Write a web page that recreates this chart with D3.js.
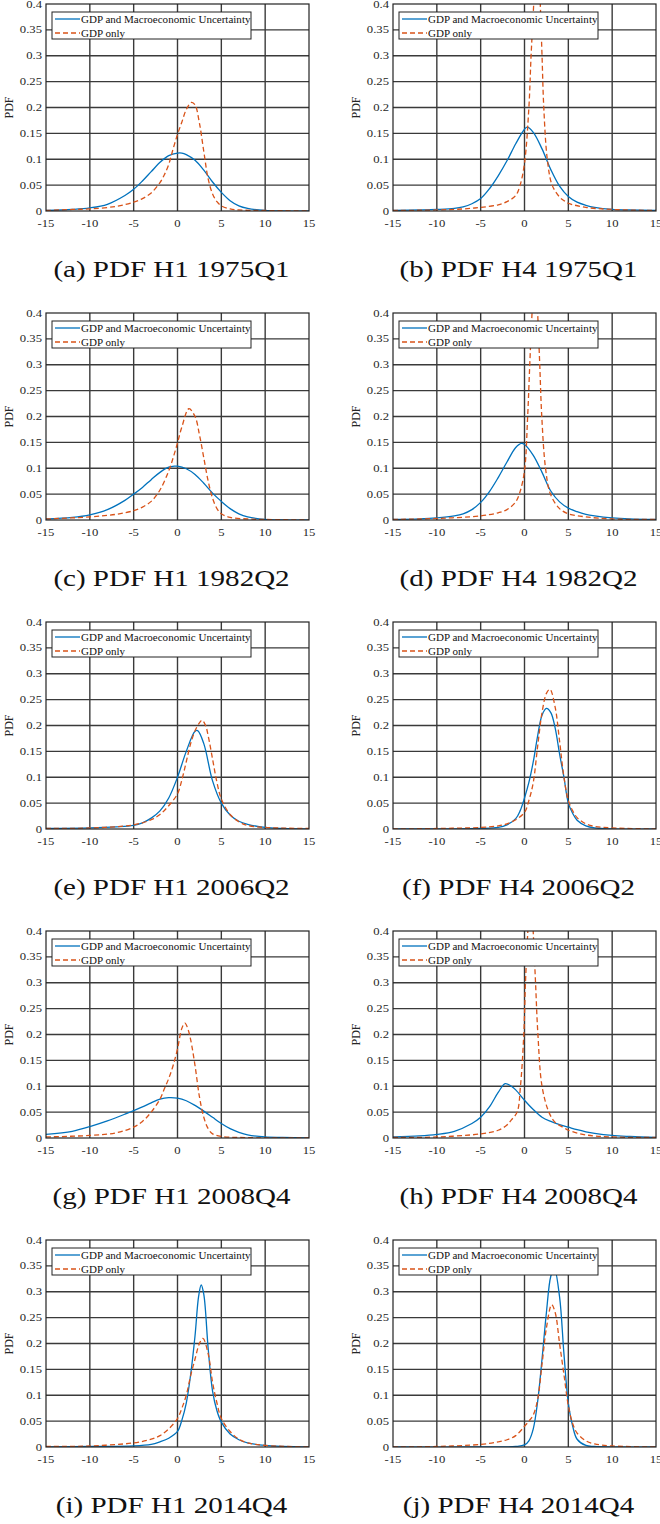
<!DOCTYPE html>
<html>
<head>
<meta charset="utf-8">
<script src="https://cdn.jsdelivr.net/npm/d3@7"></script>
<style>
  body { margin: 0; background: #fff; }
  svg { display: block; }
  text { font-family: "Liberation Serif", "Times New Roman", serif; }
</style>
</head>
<body>
<svg id="chart" width="660" height="1524"></svg>
<script>
// axis ticks
const xTicks = [-15, -10, -5, 0, 5, 10, 15];
const yTicks = [0, 0.05, 0.1, 0.15, 0.2, 0.25, 0.3, 0.35, 0.4];
const legendLabels = ["GDP and Macroeconomic Uncertainty", "GDP only"];
const captions = [
  "(a) PDF H1 1975Q1", "(b) PDF H4 1975Q1",
  "(c) PDF H1 1982Q2", "(d) PDF H4 1982Q2",
  "(e) PDF H1 2006Q2", "(f) PDF H4 2006Q2",
  "(g) PDF H1 2008Q4", "(h) PDF H4 2008Q4",
  "(i) PDF H1 2014Q4", "(j) PDF H4 2014Q4"
];

// [growth, density] pairs
const a_macro = [[-15,0.001],[-12,0.003],[-10,0.006],[-8,0.013],[-6,0.03],[-5,0.042],[-4,0.058],[-3,0.076],[-2,0.094],[-1,0.107],[0,0.112],[0.5,0.112],[1,0.109],[2,0.098],[3,0.079],[4,0.056],[5,0.036],[6,0.02],[7,0.01],[8,0.005],[10,0.001],[12,0],[15,0]];
const a_gdp = [[-15,0.001],[-12,0.003],[-10,0.004],[-7,0.009],[-5,0.017],[-4,0.024],[-3,0.035],[-2,0.055],[-1.5,0.07],[-1,0.09],[-0.5,0.12],[0,0.148],[0.5,0.172],[1,0.196],[1.6,0.21],[2,0.205],[2.5,0.17],[3,0.115],[3.5,0.062],[4,0.033],[4.5,0.018],[5,0.01],[6,0.004],[7,0.002],[10,0.001],[15,0]];

const b_macro = [[-15,0.001],[-12,0.002],[-10,0.003],[-8,0.005],[-7,0.008],[-6,0.014],[-5,0.024],[-4,0.043],[-3,0.068],[-2,0.097],[-1,0.13],[0,0.158],[0.3,0.162],[1,0.152],[2,0.12],[3,0.08],[4,0.048],[5,0.028],[6,0.017],[7,0.011],[8,0.007],[10,0.003],[12,0.002],[15,0.001]];
const b_gdp = [[-15,0.001],[-10,0.002],[-7,0.004],[-5,0.007],[-3,0.012],[-2,0.018],[-1,0.03],[-0.5,0.05],[0,0.092],[0.5,0.2],[0.75,0.3],[1.05,0.4],[1.45,0.55],[1.8,0.4],[2,0.3],[2.2,0.2],[2.6,0.1],[3.15,0.05],[4,0.027],[4.5,0.02],[5,0.015],[7,0.007],[10,0.003],[15,0.001]];

const c_macro = [[-15,0.002],[-12,0.005],[-10,0.01],[-8,0.02],[-6,0.038],[-5,0.05],[-4,0.063],[-3,0.078],[-2,0.092],[-1,0.102],[-0.3,0.104],[0,0.104],[1,0.099],[2,0.088],[3,0.071],[4,0.052],[5,0.036],[6,0.022],[7,0.012],[8,0.006],[10,0.001],[12,0],[15,0]];
const c_gdp = [[-15,0.002],[-10,0.006],[-7,0.011],[-5,0.018],[-4,0.025],[-3,0.036],[-2,0.058],[-1,0.095],[-0.5,0.12],[0,0.149],[0.5,0.18],[1.3,0.215],[2,0.2],[2.5,0.165],[3,0.12],[3.5,0.075],[4,0.042],[4.5,0.022],[5,0.012],[6,0.005],[8,0.002],[10,0.001],[15,0]];

const d_macro = [[-15,0.001],[-12,0.002],[-10,0.004],[-8,0.008],[-7,0.012],[-6,0.02],[-5,0.034],[-4,0.055],[-3,0.082],[-2,0.112],[-1,0.14],[-0.35,0.148],[0,0.146],[1,0.125],[2,0.092],[3,0.056],[4,0.035],[5,0.023],[6,0.016],[7,0.011],[8,0.008],[10,0.004],[12,0.002],[15,0.001]];
const d_gdp = [[-15,0.001],[-10,0.003],[-5,0.008],[-3,0.014],[-2,0.02],[-1,0.035],[-0.5,0.055],[0,0.095],[0.36,0.2],[0.6,0.3],[0.86,0.4],[1.2,0.5],[1.5,0.4],[1.74,0.3],[1.97,0.2],[2.4,0.1],[2.96,0.05],[4,0.022],[5,0.012],[7,0.006],[10,0.002],[15,0.001]];

const e_macro = [[-15,0.001],[-10,0.002],[-7,0.004],[-5,0.007],[-4,0.012],[-3,0.021],[-2,0.035],[-1,0.06],[0,0.1],[1,0.15],[2,0.189],[2.3,0.19],[3,0.165],[4,0.093],[5,0.05],[6,0.027],[7,0.015],[8,0.009],[10,0.003],[12,0.001],[15,0]];
const e_gdp = [[-15,0.001],[-10,0.002],[-5,0.008],[-3,0.018],[-2,0.028],[-1,0.045],[0,0.068],[0.5,0.095],[1,0.13],[1.5,0.165],[2,0.19],[2.5,0.205],[2.8,0.21],[3.2,0.2],[3.5,0.18],[4,0.135],[4.5,0.09],[5,0.058],[6,0.028],[7,0.014],[8,0.007],[10,0.003],[15,0.001]];

const f_macro = [[-15,0],[-5,0.001],[-3,0.003],[-2,0.008],[-1,0.02],[-0.5,0.035],[0,0.06],[0.5,0.09],[1,0.13],[1.5,0.18],[2,0.22],[2.5,0.233],[3,0.225],[3.5,0.195],[4,0.145],[4.5,0.1],[5,0.05],[5.5,0.03],[6,0.017],[7,0.006],[8,0.002],[10,0],[15,0]];
const f_gdp = [[-15,0],[-10,0.001],[-5,0.003],[-3,0.006],[-2,0.01],[-1,0.018],[0,0.032],[0.5,0.055],[1,0.09],[1.5,0.16],[2,0.225],[2.5,0.262],[2.9,0.27],[3.5,0.235],[4,0.17],[4.5,0.1],[5,0.055],[5.5,0.035],[6,0.022],[7,0.01],[8,0.005],[10,0.002],[15,0]];

const g_macro = [[-15,0.007],[-12,0.013],[-10,0.022],[-8,0.033],[-6,0.046],[-5,0.053],[-4,0.06],[-3,0.068],[-2,0.075],[-1,0.078],[0,0.077],[1,0.072],[2,0.063],[3,0.052],[4,0.04],[5,0.028],[6,0.018],[7,0.011],[8,0.006],[10,0.002],[12,0.001],[15,0]];
const g_gdp = [[-15,0.002],[-10,0.005],[-7,0.01],[-5,0.021],[-4,0.032],[-3,0.05],[-2,0.075],[-1.5,0.095],[-1,0.115],[-0.5,0.14],[0,0.172],[0.5,0.212],[0.85,0.222],[1.2,0.21],[1.5,0.19],[2,0.14],[2.5,0.08],[3,0.04],[3.5,0.018],[4,0.008],[5,0.003],[7,0.001],[15,0]];

const h_macro = [[-15,0.002],[-12,0.004],[-10,0.007],[-8,0.013],[-6,0.028],[-5,0.04],[-4,0.06],[-3,0.088],[-2.2,0.105],[-1.5,0.1],[-1,0.093],[0,0.073],[1,0.055],[2,0.04],[3,0.032],[4,0.026],[5,0.021],[6,0.016],[7,0.012],[8,0.009],[10,0.005],[12,0.003],[15,0.001]];
const h_gdp = [[-15,0.001],[-10,0.002],[-5,0.008],[-3,0.015],[-2,0.025],[-1.5,0.035],[-0.84,0.05],[-0.46,0.1],[-0.08,0.2],[0.11,0.3],[0.38,0.4],[0.7,0.5],[0.99,0.4],[1.26,0.3],[1.53,0.2],[2,0.1],[2.78,0.05],[3.5,0.03],[4.5,0.02],[5,0.015],[7,0.006],[10,0.002],[15,0.001]];

const i_macro = [[-15,0],[-10,0.001],[-5,0.002],[-3,0.005],[-2,0.01],[-1,0.017],[0,0.03],[0.5,0.052],[1,0.085],[1.5,0.14],[2,0.215],[2.4,0.29],[2.7,0.313],[3,0.295],[3.5,0.19],[4,0.108],[4.5,0.07],[5,0.048],[6,0.025],[7,0.014],[8,0.008],[10,0.003],[15,0]];
const i_gdp = [[-15,0.001],[-10,0.002],[-5,0.008],[-3,0.015],[-2,0.022],[-1,0.035],[0,0.055],[0.5,0.075],[1,0.1],[1.5,0.138],[2,0.17],[2.5,0.2],[2.9,0.21],[3.5,0.18],[4,0.125],[4.5,0.085],[5,0.055],[6,0.03],[7,0.015],[8,0.008],[10,0.003],[15,0]];

const j_macro = [[-15,0],[-5,0],[-1,0.001],[0,0.004],[0.5,0.012],[1,0.035],[1.5,0.088],[2,0.17],[2.5,0.26],[3,0.33],[3.4,0.345],[4,0.29],[4.5,0.18],[5,0.085],[5.5,0.04],[6,0.015],[7,0.003],[8,0.001],[15,0]];
const j_gdp = [[-15,0],[-10,0.001],[-5,0.005],[-3,0.01],[-2,0.014],[-1,0.022],[0,0.04],[0.5,0.05],[1,0.062],[1.5,0.092],[2,0.16],[2.5,0.23],[3.1,0.275],[3.5,0.26],[4,0.2],[4.5,0.14],[5,0.08],[5.5,0.045],[6,0.027],[7,0.012],[8,0.006],[10,0.002],[15,0]];

const panelSeries = [
  [a_macro, a_gdp], [b_macro, b_gdp],
  [c_macro, c_gdp], [d_macro, d_gdp],
  [e_macro, e_gdp], [f_macro, f_gdp],
  [g_macro, g_gdp], [h_macro, h_gdp],
  [i_macro, i_gdp], [j_macro, j_gdp]
];

const colors = ["#0072BD", "#D95319"];
const svg = d3.select("#chart");

const colLeft = [46, 393];
const plotW = 263;
const plotH = 207;
const rowTop = r => 4 + r * 309;

const x = d3.scaleLinear().domain([-15, 15]).range([0, plotW]);
const y = d3.scaleLinear().domain([0, 0.4]).range([plotH, 0]);

const line = d3.line()
  .x(d => x(d[0]))
  .y(d => Math.min(y(d[1]), plotH))
  .curve(d3.curveCatmullRom.alpha(0.5));

const fmt = d => (d === 0 ? "0" : String(+d.toFixed(2)));

// the source figure is stretched sideways, so horizontal text is too
const stretchText = (sel, tx, ty, sx = 1.15) =>
  sel.attr("transform", `translate(${tx},${ty}) scale(${sx},1)`);

const drawPanel = (idx) => {
  const col = idx % 2;
  const row = Math.floor(idx / 2);
  const left = colLeft[col];
  const top = rowTop(row);
  const g = svg.append("g").attr("transform", `translate(${left},${top})`);

  g.append("clipPath").attr("id", `clip${idx}`)
    .append("rect").attr("width", plotW).attr("height", plotH);

  // grid
  g.append("g").selectAll("line").data(xTicks.slice(1, -1)).join("line")
    .attr("x1", d => x(d)).attr("x2", d => x(d))
    .attr("y1", 0).attr("y2", plotH)
    .attr("stroke", "#3a3a3a").attr("stroke-width", 1.4);
  g.append("g").selectAll("line").data(yTicks.slice(1, -1)).join("line")
    .attr("y1", d => y(d)).attr("y2", d => y(d))
    .attr("x1", 0).attr("x2", plotW)
    .attr("stroke", "#3a3a3a").attr("stroke-width", 1.4);

  // curves
  const [macro, gdp] = panelSeries[idx];
  const curves = g.append("g").attr("clip-path", `url(#clip${idx})`);
  curves.append("path").datum(macro)
    .attr("d", line).attr("fill", "none")
    .attr("stroke", colors[0]).attr("stroke-width", 1.3);
  curves.append("path").datum(gdp)
    .attr("d", line).attr("fill", "none")
    .attr("stroke", colors[1]).attr("stroke-width", 1.3)
    .attr("stroke-dasharray", "5,3");

  // box
  g.append("rect").attr("width", plotW).attr("height", plotH)
    .attr("fill", "none").attr("stroke", "#222").attr("stroke-width", 1.2);

  // tick labels
  g.append("g").selectAll("text").data(xTicks).join("text")
    .text(d => d)
    .each(function (d) { stretchText(d3.select(this), x(d), plotH + 16); })
    .attr("text-anchor", "middle")
    .attr("font-size", 11).attr("fill", "#262626");
  g.append("g").selectAll("text").data(yTicks).join("text")
    .text(fmt)
    .each(function (d) { stretchText(d3.select(this), -4, y(d) + 3.5); })
    .attr("text-anchor", "end")
    .attr("font-size", 11).attr("fill", "#262626");

  g.append("text")
    .attr("transform", `translate(-33,${plotH / 2}) rotate(-90)`)
    .attr("text-anchor", "middle")
    .attr("font-size", 12).attr("fill", "#262626")
    .text("PDF");

  // legend
  const lg = g.append("g").attr("transform", "translate(6,8)");
  lg.append("rect").attr("width", 199).attr("height", 27)
    .attr("fill", "#fff").attr("stroke", "#222").attr("stroke-width", 1);
  legendLabels.forEach((lab, i) => {
    const ly = 7 + i * 14;
    lg.append("line").attr("x1", 3).attr("x2", 28).attr("y1", ly).attr("y2", ly)
      .attr("stroke", colors[i]).attr("stroke-width", 1.3)
      .attr("stroke-dasharray", i === 1 ? "5,3" : null);
    lg.append("text").text(lab)
      .call(s => stretchText(s, 29, ly + 3.5))
      .attr("font-size", 9.6).attr("fill", "#111");
  });

  // caption
  svg.append("text").text(captions[idx])
    .call(s => stretchText(s, left + plotW / 2 - 6, top + 273, 1.21))
    .attr("text-anchor", "middle")
    .attr("font-size", 24).attr("fill", "#111");
};

captions.forEach((c, i) => drawPanel(i));
</script>
</body>
</html>
